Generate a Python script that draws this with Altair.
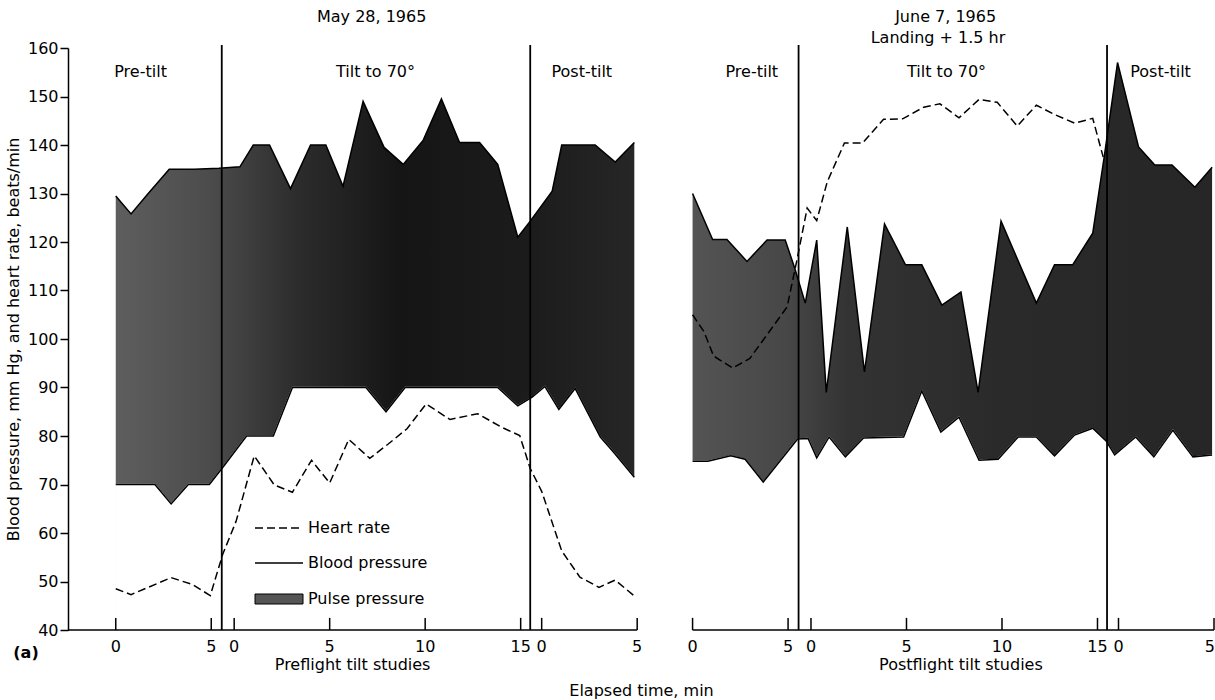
import altair as alt
import pandas as pd

FONT = "DejaVu Sans"

# ---- panels -------------------------------------------------------------
PANEL_TITLES = ["May 28, 1965", "June 7, 1965"]
PANEL_SUBTITLE2 = ["", "Landing + 1.5 hr"]
PANEL_XTITLES = ["Preflight tilt studies", "Postflight tilt studies"]
PANEL_OFFSET = [0.0, 30.2]          # where each panel's time axis starts
PHASES = ["Pre-tilt", "Tilt to 70°", "Post-tilt"]
PHASE_START = [0.0, 6.2, 22.3]       # start of each phase on a panel's time axis
PHASE_TICKS = [[0, 5], [0, 5, 10, 15], [0, 5]]
PHASE_BOUNDARY = [5.55, 21.7]        # vertical separators
PHASE_LABEL_T = [[1.3, 13.6, 24.4], [3.1, 13.3, 24.5]]

# ---- May 28, 1965 (preflight) -------------------------------------------
L_SYS_T = [0, 0.8, 1.7, 2.8, 4.1, 5.4, 6.5, 7.2, 8.05, 9.15, 10.2, 11.0, 11.9, 12.95,
           14.05, 15.05, 16.1, 17.05, 18.0, 19.05, 20.0, 21.05, 21.7, 22.85, 23.35,
           25.1, 26.15, 27.15]
L_SYS_V = [129.5, 125.8, 130, 135, 135, 135.2, 135.5, 140, 140, 131, 140, 140, 131.5, 149,
           139.5, 136, 141, 149.5, 140.5, 140.5, 136, 121, 124.3, 130.5, 140,
           140, 136.5, 140.5]
L_DIA_T = [0, 2.05, 2.9, 3.8, 4.9, 5.6, 6.85, 8.25, 9.25, 13.1, 14.15, 15.15, 20.0,
           21.05, 21.8, 22.47, 23.2, 24.05, 25.37, 26.1, 27.15]
L_DIA_V = [70, 70, 66, 70, 70, 73.5, 80, 80, 90, 90, 85, 90, 90,
           86.2, 88, 90.2, 85.5, 89.8, 79.8, 76.5, 71.5]
L_HR_T = [0, 0.8, 2.9, 4.0, 4.95, 5.6, 6.3, 7.25, 8.3, 9.25, 10.25, 11.2, 12.2, 13.3,
          14.25, 15.25, 16.25, 17.5, 18.95, 20.2, 21.15, 21.7, 22.3, 23.35, 24.3,
          25.3, 26.15, 27.15]
L_HR_V = [48.5, 47.3, 50.8, 49.4, 47.1, 55.6, 62.4, 75.9, 69.9, 68.4, 75, 70.3, 79.3, 75.4,
          78.3, 81.5, 86.6, 83.4, 84.6, 81.8, 80.1, 73.3, 68.6, 56.3, 50.9,
          48.8, 50.3, 47]

# ---- June 7, 1965 (postflight, landing + 1.5 hr) ------------------------
R_SYS_T = [0, 1.05, 1.8, 2.85, 3.9, 4.85, 5.35, 5.9, 6.5, 7.0, 8.1, 9.0, 10.05, 11.15,
           12.0, 13.05, 14.05, 14.95, 16.15, 18.0, 18.95, 19.9, 20.95, 21.55, 22.25,
           23.35, 24.2, 25.1, 26.3, 27.2]
R_SYS_V = [130, 120.5, 120.5, 116, 120.4, 120.4, 114.6, 107.4, 120.4, 89, 123.1, 93.2, 123.7,
           115.3, 115.3, 107, 109.7, 89, 124.3, 107.4, 115.3, 115.3, 121.8, 137.5, 157,
           139.6, 135.9, 135.9, 131.3, 135.4]
R_DIA_T = [0, 0.8, 2.0, 2.75, 3.7, 5.5, 6.05, 6.5, 7.15, 8.0, 8.95, 11.05, 12.0, 13.0,
           13.95, 15.0, 16.0, 17.05, 18.0, 18.95, 20.0, 20.95, 21.65, 22.1, 23.2,
           24.15, 25.15, 26.2, 27.2]
R_DIA_V = [74.8, 74.8, 75.9, 75.2, 70.5, 79.4, 79.5, 75.5, 79.8, 75.7, 79.6, 79.8, 89.3, 80.8,
           83.9, 75.0, 75.2, 79.8, 79.8, 75.9, 80.2, 81.6, 79, 76.1, 79.8,
           75.7, 81.2, 75.7, 76.1]
R_HR_T = [0, 0.6, 1.1, 2.1, 3.0, 3.7, 4.95, 5.45, 6.0, 6.5, 7.05, 7.95, 8.9, 10.0, 11.0,
          12.1, 12.95, 13.95, 15.0, 15.95, 17.0, 18.0, 19.0, 20.0, 20.95, 21.5]
R_HR_V = [105, 101.5, 96.5, 94, 96, 99.8, 106.6, 116, 127, 124.4, 132.4, 140.4, 140.4, 145.3,
          145.4, 147.8, 148.5, 145.6, 149.4, 148.8, 143.9, 148.2, 146.2, 144.5, 145.5, 137.5]

Y_TICKS = list(range(40, 161, 10))
Y_MIN, Y_MAX = 40, 160
X_MIN, X_MAX = -2.5, 57.5
LEGEND_LABELS = ["Heart rate", "Blood pressure", "Pulse pressure"]

W, H = 1146, 582


def sdf(panel, ts, vs):
    off = PANEL_OFFSET[panel]
    return pd.DataFrame({"x": [t + off for t in ts], "v": vs, "base": Y_MIN,
                         "panel": PANEL_TITLES[panel]})


xscale = alt.Scale(domain=[X_MIN, X_MAX], nice=False, zero=False)
yscale = alt.Scale(domain=[Y_MIN, Y_MAX], nice=False, zero=False)
xaxis = alt.Axis(domain=False, ticks=False, labels=False, grid=False,
                 title="Elapsed time, min", titleFont=FONT, titleFontSize=16,
                 titleFontWeight="normal", titleColor="black", titlePadding=52)
yaxis = alt.Axis(values=Y_TICKS, grid=False, tickSize=8, tickWidth=1.5, tickColor="black",
                 domainColor="black", domainWidth=1.5, labelPadding=2,
                 labelFont=FONT, labelFontSize=16, labelColor="black",
                 title="Blood pressure, mm Hg, and heart rate, beats/min",
                 titleFont=FONT, titleFontSize=16, titleFontWeight="normal",
                 titleColor="black", titlePadding=6)
X = alt.X("x:Q", scale=xscale, axis=xaxis)
Y = alt.Y("v:Q", scale=yscale, axis=yaxis)


def grad(stops):
    return alt.Gradient(gradient="linear", x1=0, x2=1, y1=0, y2=0,
                        stops=[alt.GradientStop(color=c, offset=o) for o, c in stops])


GRADS = [
    grad([(0, "#5e5e5e"), (0.18, "#4c4c4c"), (0.35, "#2c2c2c"), (0.55, "#151515"),
          (0.8, "#1c1c1c"), (1, "#262626")]),
    grad([(0, "#545454"), (0.18, "#474747"), (0.3, "#333333"), (0.6, "#2a2a2a"),
          (1, "#262626")]),
]

SYS = [(L_SYS_T, L_SYS_V), (R_SYS_T, R_SYS_V)]
DIA = [(L_DIA_T, L_DIA_V), (R_DIA_T, R_DIA_V)]
HR = [(L_HR_T, L_HR_V), (R_HR_T, R_HR_V)]

layers = []
for p in range(2):
    layers.append(alt.Chart(sdf(p, *SYS[p])).mark_area(color=GRADS[p], interpolate="linear")
                  .encode(x=X, y=Y, y2=alt.Y2("base:Q")))
for p in range(2):
    layers.append(alt.Chart(sdf(p, *DIA[p])).mark_area(color="white", stroke="white",
                                                       strokeWidth=1.3, interpolate="linear")
                  .encode(x=X, y=Y, y2=alt.Y2("base:Q")))
bp = pd.concat([sdf(0, *SYS[0]).assign(s="sys"), sdf(0, *DIA[0]).assign(s="dia"),
                sdf(1, *SYS[1]).assign(s="sys"), sdf(1, *DIA[1]).assign(s="dia")])
bp["key"] = bp["panel"] + bp["s"]
layers.append(alt.Chart(bp).mark_line(color="black", strokeWidth=1.5)
              .encode(x=X, y=Y, detail="key:N"))

# phase separators
sep = pd.DataFrame({"x": [b + o for o in PANEL_OFFSET for b in PHASE_BOUNDARY],
                    "v": Y_MAX + 0.6, "base": Y_MIN})
layers.append(alt.Chart(sep).mark_rule(color="black", strokeWidth=1.8)
              .encode(x=X, y=Y, y2=alt.Y2("base:Q")))

# heart rate
hr = pd.concat([sdf(0, *HR[0]), sdf(1, *HR[1])])
layers.append(alt.Chart(hr).mark_line(color="black", strokeWidth=1.5, strokeDash=[8, 4])
              .encode(x=X, y=Y, detail="panel:N"))

# x axis lines per panel
axl = pd.DataFrame({"x": [X_MIN + PANEL_OFFSET[0], PANEL_OFFSET[1]],
                    "x2": [PHASE_START[2] + 5 + PANEL_OFFSET[0], PHASE_START[2] + 5 + PANEL_OFFSET[1]],
                    "v": Y_MIN})
layers.append(alt.Chart(axl).mark_rule(color="black", strokeWidth=1.5)
              .encode(x=X, x2=alt.X2("x2:Q"), y=Y))

# ticks (pointing inward) and tick labels
trows = []
for o in PANEL_OFFSET:
    for ph, mins in enumerate(PHASE_TICKS):
        for m in mins:
            trows.append({"x": o + PHASE_START[ph] + m, "v": Y_MIN, "top": Y_MIN + 2.5,
                          "lab": str(m)})
ticks = pd.DataFrame(trows)
layers.append(alt.Chart(ticks).mark_rule(color="black", strokeWidth=1.5)
              .encode(x=X, y=Y, y2=alt.Y2("top:Q")))
layers.append(alt.Chart(ticks.iloc[:-1]).mark_text(font=FONT, fontSize=16, baseline="middle",
                                                   color="black")
              .encode(x=X, y=alt.value(H + 17), text="lab:N"))
# last label sits at the right edge of the figure
layers.append(alt.Chart(ticks.iloc[[-1]]).mark_text(font=FONT, fontSize=16, baseline="middle",
                                                    color="black", align="right", dx=1)
              .encode(x=X, y=alt.value(H + 17), text="lab:N"))

# phase labels
prow = []
for p, o in enumerate(PANEL_OFFSET):
    for name, t in zip(PHASES, PHASE_LABEL_T[p]):
        prow.append({"x": o + t, "v": 155.0, "lab": name})
layers.append(alt.Chart(pd.DataFrame(prow)).mark_text(font=FONT, fontSize=16, color="black",
                                                     baseline="middle")
              .encode(x=X, y=Y, text="lab:N"))

# panel titles
tit = pd.DataFrame({"x": [PANEL_OFFSET[0] + 13.4, PANEL_OFFSET[1] + 13.25, PANEL_OFFSET[1] + 12.85],
                    "lab": [PANEL_TITLES[0], PANEL_TITLES[1], PANEL_SUBTITLE2[1]],
                    "py": [-31, -31, -10]})
layers.append(alt.Chart(tit).mark_text(font=FONT, fontSize=16, color="black", baseline="middle")
              .encode(x=X, y=alt.Y("py:Q", scale=None), text="lab:N"))

# panel x titles
xt = pd.DataFrame({"x": [PANEL_OFFSET[0] + 12.4, PANEL_OFFSET[1] + 14.05], "lab": PANEL_XTITLES})
layers.append(alt.Chart(xt).mark_text(font=FONT, fontSize=16, color="black", baseline="middle")
              .encode(x=X, y=alt.value(H + 35), text="lab:N"))

# legend
leg = pd.DataFrame({"lab": LEGEND_LABELS, "py": [480, 515, 551]})
layers.append(alt.Chart(leg).mark_text(font=FONT, fontSize=16, color="black", align="left",
                                       baseline="middle")
              .encode(x=alt.value(240), y=alt.Y("py:Q", scale=None), text="lab:N"))
layers.append(alt.Chart(leg.iloc[[0]]).mark_rule(color="black", strokeWidth=1.5, strokeDash=[8, 4])
              .encode(x=alt.value(187), x2=alt.value(233), y=alt.value(480)))
layers.append(alt.Chart(leg.iloc[[1]]).mark_rule(color="black", strokeWidth=1.5)
              .encode(x=alt.value(187), x2=alt.value(235), y=alt.value(515)))
layers.append(alt.Chart(leg.iloc[[2]]).mark_rect(color="#555555", stroke="black", strokeWidth=1)
              .encode(x=alt.value(187), x2=alt.value(235), y=alt.value(546), y2=alt.value(556)))

# figure tag
layers.append(alt.Chart(pd.DataFrame({"lab": ["(a)"]})).mark_text(
    font=FONT, fontSize=16, fontWeight="bold", color="black", baseline="middle")
    .encode(x=alt.value(-42), y=alt.value(605), text="lab:N"))

chart = alt.layer(*layers).properties(
    width=W, height=H,
    autosize=alt.AutoSizeParams(type="none"),
    padding={"left": 68, "top": 48, "right": 1, "bottom": 70},
).configure_view(stroke=None)

chart.save("out.html", embed_options={"renderer": "svg", "actions": False})
